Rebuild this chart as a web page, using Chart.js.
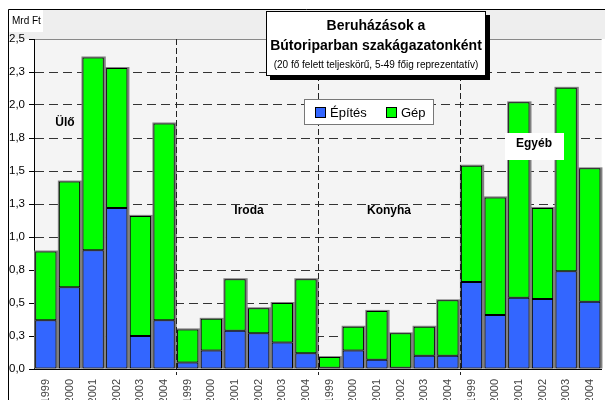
<!DOCTYPE html>
<html><head><meta charset="utf-8">
<script src="https://cdn.jsdelivr.net/npm/chart.js@4/dist/chart.umd.min.js"></script>
<style>html,body{margin:0;padding:0;background:#fff;}canvas{display:block;}</style>
</head><body>
<canvas id="c" width="605" height="400"></canvas>
<script>
const years = ['1999','2000','2001','2002','2003','2004'];
const groups = ['Ülő','Iroda','Konyha','Egyéb'];
const epites = [0.37,0.62,0.90,1.22,0.25,0.37, 0.05,0.14,0.29,0.27,0.20,0.12, 0.01,0.14,0.07,0.01,0.10,0.10, 0.66,0.41,0.54,0.53,0.74,0.51];
const gep    = [0.52,0.80,1.46,1.06,0.91,1.49, 0.25,0.24,0.39,0.19,0.30,0.56, 0.08,0.18,0.37,0.26,0.22,0.42, 0.88,0.89,1.48,0.69,1.39,1.01];
const seriesNames = ['Építés','Gép'];
const yTickLabels = ['0,0','0,3','0,5','0,8','1,0','1,3','1,5','1,8','2,0','2,3','2,5'];
const titleLines = ['Beruházások a','Bútoriparban szakágazatonként','(20 fő felett teljeskörű, 5-49 főig reprezentatív)'];
const unitLabel = 'Mrd Ft';

const labels = groups.flatMap(() => years);
const FONT = "'Liberation Sans', Arial, sans-serif";
Chart.defaults.font.family = FONT;

const deco = {
  id: 'deco',
  beforeDraw(chart) {
    const ctx = chart.ctx, a = chart.chartArea;
    ctx.save();
    ctx.fillStyle = '#fff'; ctx.fillRect(0, 0, chart.width, chart.height);
    ctx.fillStyle = '#eeeeee'; ctx.fillRect(8, 9, chart.width - 8, a.top - 9);
    ctx.fillStyle = '#f4f4f4'; ctx.fillRect(a.left, a.top, a.right - a.left, a.bottom - a.top);
    ctx.strokeStyle = '#000'; ctx.lineWidth = 1;
    ctx.beginPath(); ctx.moveTo(8.5, chart.height); ctx.lineTo(8.5, 9.5); ctx.lineTo(chart.width, 9.5); ctx.stroke();
    ctx.fillStyle = '#fff'; ctx.fillRect(9, 10, 34, 22);
    ctx.fillStyle = '#000'; ctx.font = '10px ' + FONT; ctx.textBaseline = 'middle'; ctx.textAlign = 'left';
    ctx.fillText(unitLabel, 12, 21);
    ctx.strokeStyle = '#888';
    ctx.beginPath(); ctx.moveTo(a.left, a.top + 0.5); ctx.lineTo(a.right, a.top + 0.5); ctx.stroke();
    ctx.restore();
  },
  beforeDatasetsDraw(chart) {
    const ctx = chart.ctx;
    const m0 = chart.getDatasetMeta(0), m1 = chart.getDatasetMeta(1);
    ctx.save();
    ctx.fillStyle = '#808080';
    m1.data.forEach((el, i) => {
      const p = el.getProps(['x','y','width'], true);
      const b = m0.data[i].getProps(['base'], true);
      ctx.fillRect(p.x - p.width / 2 - 1, p.y - 1, p.width + 3, b.base - p.y + 1);
    });
    ctx.restore();
  },
  afterDatasetsDraw(chart) {
    const ctx = chart.ctx, a = chart.chartArea, xs = chart.scales.x;
    ctx.save();
    ctx.strokeStyle = '#222'; ctx.lineWidth = 1; ctx.setLineDash([6, 3]);
    for (let g = 1; g < groups.length; g++) {
      const i = g * years.length;
      const x = Math.round((xs.getPixelForValue(i - 1) + xs.getPixelForValue(i)) / 2) + 0.5;
      ctx.beginPath(); ctx.moveTo(x, a.top); ctx.lineTo(x, a.bottom + 6); ctx.stroke();
    }
    ctx.setLineDash([]);
    ctx.font = 'bold 12px ' + FONT; ctx.textAlign = 'center'; ctx.textBaseline = 'middle';
    ctx.fillStyle = '#fff'; ctx.fillRect(505, 133, 59, 27);
    ctx.fillStyle = '#000';
    ctx.fillText(groups[0], 65, 123);
    ctx.fillText(groups[1], 249, 211);
    ctx.fillText(groups[2], 389, 211);
    ctx.fillText(groups[3], 534, 144);
    ctx.fillStyle = '#000'; ctx.fillRect(270, 15, 220, 65);
    ctx.fillStyle = '#fff'; ctx.fillRect(266, 11, 220, 65);
    ctx.strokeStyle = '#000'; ctx.strokeRect(266.5, 11.5, 219, 64);
    ctx.fillStyle = '#000';
    ctx.font = 'bold 14px ' + FONT;
    ctx.fillText(titleLines[0], 376, 26);
    ctx.fillText(titleLines[1], 376, 46, 212);
    ctx.font = '10px ' + FONT;
    ctx.fillText(titleLines[2], 376, 65, 216);
    ctx.fillStyle = '#fff'; ctx.fillRect(304, 99, 130, 26);
    ctx.strokeStyle = '#777'; ctx.strokeRect(304.5, 99.5, 129, 25);
    const colors = ['#3366ff', '#00ff00'];
    const pos = [[315, 330], [386, 401]];
    ctx.font = '13px ' + FONT; ctx.textAlign = 'left';
    seriesNames.forEach((n, k) => {
      ctx.fillStyle = colors[k]; ctx.fillRect(pos[k][0], 107, 10, 10);
      ctx.strokeStyle = '#000'; ctx.strokeRect(pos[k][0] + 0.5, 107.5, 10, 10);
      ctx.fillStyle = '#000'; ctx.fillText(n, pos[k][1], 113);
    });
    ctx.restore();
  }
};

new Chart(document.getElementById('c'), {
  type: 'bar',
  data: {
    labels,
    datasets: [
      { label: seriesNames[0], data: epites, backgroundColor: '#3366ff', borderColor: '#000', borderWidth: 1, borderSkipped: false },
      { label: seriesNames[1], data: gep, backgroundColor: '#00ff00', borderColor: '#000', borderWidth: 1, borderSkipped: false }
    ]
  },
  options: {
    responsive: false,
    animation: false,
    devicePixelRatio: 1,
    layout: { padding: { left: 9, top: 39, right: 0, bottom: 0 } },
    plugins: { legend: { display: false }, tooltip: { enabled: false }, title: { display: false } },
    datasets: { bar: { categoryPercentage: 1, barPercentage: 0.9 } },
    scales: {
      x: {
        stacked: true,
        grid: { display: false },
        border: { display: true, color: '#000', width: 1 },
        ticks: { autoSkip: false, maxRotation: 90, minRotation: 90, color: '#444', font: { size: 11 }, padding: 2 },
        afterFit: s => { s.height = 31; }
      },
      y: {
        stacked: true,
        min: 0, max: 2.5,
        afterBuildTicks: s => { s.ticks = yTickLabels.map((_, i) => ({ value: i * 0.25 })); },
        grid: {
          color: c => (c.tick && (c.tick.value === 0 || c.tick.value === 2.5)) ? 'rgba(0,0,0,0)' : '#333',
          tickColor: '#000', tickLength: 5, drawTicks: true
        },
        border: { display: true, color: '#000', width: 1, dash: [9, 5] },
        ticks: { callback: (v, i) => yTickLabels[i], crossAlign: 'far', color: '#000', font: { size: 11.5 }, padding: 2 },
        afterFit: s => { s.width = 25; }
      }
    }
  },
  plugins: [deco]
});
</script>
</body></html>
